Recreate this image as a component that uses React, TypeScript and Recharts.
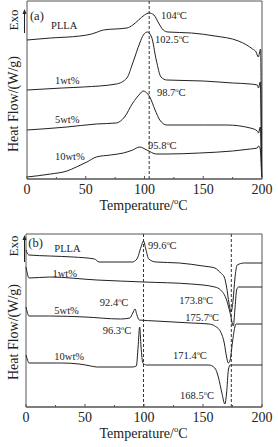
import React from "react"
import { ComposedChart, Line, XAxis, YAxis, ReferenceLine, ReferenceArea, ReferenceDot } from "recharts"

const SERIF = '"Liberation Serif", "Times New Roman", serif'
const INK = "#222"
const AXIS = "#555"

const tickValues = [0, 25, 50, 75, 100, 125, 150, 175, 200]
const labeledTicks = [0, 50, 100, 150, 200]

// (a) cooling-free first heating, heat flow in arbitrary offset units
const aPllaT = [0, 20, 45, 55, 60, 65, 85, 90, 95, 100, 104, 108, 112, 116, 120, 140, 160, 180, 187, 192, 195, 196.8, 198.8, 199.7]
const aPllaHF = [139, 141, 143, 145, 147, 149, 151, 154, 159, 164, 166, 164, 156, 149, 147, 146, 143, 138, 134, 130, 127, 122, 130, 2]

const a1T = [0, 30, 48, 76, 85, 90, 96, 99, 102.5, 106, 110, 114, 119, 150, 175, 190, 196, 197, 198.5, 199.7]
const a1HF = [89, 91, 92, 95, 101, 116, 136, 144, 147, 142, 119, 102, 99, 98, 96, 95, 94, 91, 97, 2]

const a5T = [0, 34, 59, 76, 83, 90, 96, 98.7, 101, 104.5, 109, 113, 119, 150, 170, 190, 196, 197, 198.5, 199.7]
const a5HF = [49, 52, 55, 56, 62, 76, 85, 88, 87, 82, 69, 59, 54, 54, 54, 51, 48, 46, 52, 2]

const a10T = [0, 20, 34, 42, 51, 59, 71, 82, 90, 95.8, 102, 110, 120, 147, 175, 190, 196, 197, 198.5, 199.7]
const a10HF = [2, 5, 8, 12, 17, 22, 24, 26, 29, 32, 29, 25, 25, 26, 28, 30, 31, 33, 30, 2]

// (b)
const bPllaT = [0, 1, 2.5, 20, 40, 58, 62, 90, 94, 97.5, 99.6, 101.5, 104, 110, 130, 150, 160, 165, 168, 170, 172, 173.8, 175.5, 177, 179, 185, 200]
const bPllaHF = [157, 154, 152, 151, 150, 148, 145, 145, 148, 160, 166, 158, 148, 145, 144, 141, 139, 134, 130, 120, 104, 95, 107, 128, 142, 144, 144]

const b1T = [0, 1, 2.5, 20, 60, 100, 140, 160, 165, 170, 173, 175.7, 177, 178.5, 180, 200]
const b1HF = [140, 134, 129, 130, 127, 125, 123, 120, 117, 107, 94, 81, 97, 117, 120, 120]

const b5T = [0, 1, 2.5, 20, 50, 80, 88, 90.5, 92.4, 94, 96, 110, 140, 155, 160, 165, 168, 170, 171.4, 173, 175, 177, 178, 200]
const b5HF = [100, 95, 91, 91, 90, 88, 89, 94, 98, 92, 87, 86, 84, 83, 81, 75, 64, 50, 44, 47, 65, 80, 83, 83]

const b10T = [0, 1, 2.5, 30, 45, 55, 60, 90, 93.5, 95, 96.3, 97.5, 99, 102, 140, 155, 160, 163, 166, 168.5, 170, 171.5, 173, 200]
const b10HF = [52, 48, 44, 44, 43, 41, 40, 40, 41, 60, 80, 60, 44, 42, 42, 42, 39, 30, 14, 3, 14, 37, 42, 42]

const aNotes = [
  { t: 2.5, hf: 159, text: "(a)", size: 12.5 },
  { t: 20.5, hf: 150, text: "PLLA", size: 10.5 },
  { t: 114, hf: 160, text: "104°C", size: 10.5 },
  { t: 109, hf: 136, text: "102.5°C", size: 10.5 },
  { t: 23.8, hf: 95, text: "1wt%", size: 10.5 },
  { t: 110.6, hf: 83, text: "98.7°C", size: 10.5 },
  { t: 23.8, hf: 56, text: "5wt%", size: 10.5 },
  { t: 103, hf: 30, text: "95.8°C", size: 10.5 },
  { t: 23.8, hf: 19, text: "10wt%", size: 10.5 },
]

const bNotes = [
  { t: 2, hf: 160, text: "(b)", size: 12.5 },
  { t: 24, hf: 155, text: "PLLA", size: 10.5 },
  { t: 103.4, hf: 158, text: "99.6°C", size: 10.5 },
  { t: 22.4, hf: 130, text: "1wt%", size: 10.5 },
  { t: 62.5, hf: 101, text: "92.4°C", size: 10.5 },
  { t: 129.8, hf: 103, text: "173.8°C", size: 10.5 },
  { t: 24, hf: 93, text: "5wt%", size: 10.5 },
  { t: 135, hf: 86, text: "175.7°C", size: 10.5 },
  { t: 65, hf: 73, text: "96.3°C", size: 10.5 },
  { t: 24, hf: 47, text: "10wt%", size: 10.5 },
  { t: 124.6, hf: 48, text: "171.4°C", size: 10.5 },
  { t: 130.6, hf: 8, text: "168.5°C", size: 10.5 },
]

const zip = (t: number[], hf: number[]) => t.map((v, i) => ({ t: v, hf: hf[i] }))

function DegText({ x, y, text, size }: { x: number; y: number; text: string; size: number }) {
  const parts = text.split("°")
  return (
    <text x={x} y={y} fontSize={size} fontFamily={SERIF} fill={INK}>
      {parts[0]}
      {parts.length > 1 && (
        <>
          <tspan fontSize={size * 0.6} dy={-size * 0.4}>o</tspan>
          <tspan dy={size * 0.4}>{parts[1]}</tspan>
        </>
      )}
    </text>
  )
}

function TempTick(props: any) {
  const { x, y, payload } = props
  const axisY = y - 5
  const major = labeledTicks.includes(payload.value)
  return (
    <g>
      <line x1={x} x2={x} y1={axisY} y2={axisY - (major ? 3 : 2)} stroke={AXIS} />
      {major && (
        <text x={x} y={axisY + 15} textAnchor="middle" fontSize={14} fontFamily={SERIF} fill={INK}>
          {payload.value}
        </text>
      )}
    </g>
  )
}

interface PanelProps {
  height: number
  top: number
  left: number
  yMax: number
  series: Array<{ t: number; hf: number }[]>
  dashed: number[]
  notes: typeof aNotes
}

function Panel({ height, top, left, yMax, series, dashed, notes }: PanelProps) {
  return (
    <ComposedChart width={278} height={height} margin={{ top, right: 16, left, bottom: 0 }}>
      <XAxis
        type="number"
        dataKey="t"
        domain={[0, 200]}
        ticks={tickValues}
        interval={0}
        height={height - top - (height === 220 ? 178 : 173)}
        tickSize={0}
        tickMargin={5}
        tickLine={false}
        tick={<TempTick />}
        stroke={AXIS}
      />
      <YAxis type="number" domain={[0, yMax]} hide />
      <ReferenceArea x1={0} x2={200} y1={0} y2={yMax} fill="none" stroke={AXIS} strokeWidth={1} />
      {dashed.map((d) => (
        <ReferenceLine key={d} x={d} stroke="#333" strokeDasharray="3 2" />
      ))}
      {series.map((s, i) => (
        <Line key={i} data={s} dataKey="hf" type="monotone" stroke={INK} strokeWidth={1} dot={false} isAnimationActive={false} />
      ))}
      {notes.map((n) => (
        <ReferenceDot
          key={n.text}
          x={n.t}
          y={n.hf}
          r={1}
          shape={(p: any) => <DegText x={p.cx} y={p.cy} text={n.text} size={n.size} />}
        />
      ))}
    </ComposedChart>
  )
}

function Side({ exoY, labelY, arrowTop, arrowBottom }: { exoY: number; labelY: number; arrowTop: number; arrowBottom: number }) {
  return (
    <g fontFamily={SERIF} fill={INK}>
      <text x={13} y={exoY} fontSize={13} textAnchor="middle" dominantBaseline="central" transform={`rotate(-90 13 ${exoY})`}>
        Exo
      </text>
      <line x1={24.5} x2={24.5} y1={arrowTop + 3} y2={arrowBottom} stroke={INK} strokeWidth={1} />
      <path d={`M22.5 ${arrowTop + 5} L24.5 ${arrowTop} L26.5 ${arrowTop + 5} Z`} fill={INK} />
      <text x={13} y={labelY} fontSize={14} textAnchor="middle" dominantBaseline="central" transform={`rotate(-90 13 ${labelY})`}>
        Heat Flow/(W/g)
      </text>
    </g>
  )
}

function Title({ y }: { y: number }) {
  return (
    <text x={143.5} y={y} fontSize={14} textAnchor="middle" fontFamily={SERIF} fill={INK}>
      Temperature/
      <tspan fontSize={8.5} dy={-6}>o</tspan>
      <tspan dy={6}>C</tspan>
    </text>
  )
}

export default function App() {
  return (
    <div style={{ position: "absolute", left: 0, top: 0, width: 278, height: 447, background: "#fff" }}>
      <div style={{ position: "absolute", left: 0, top: 0 }}>
        <Panel
          height={220}
          top={1}
          left={27}
          yMax={178}
          series={[zip(aPllaT, aPllaHF), zip(a1T, a1HF), zip(a5T, a5HF), zip(a10T, a10HF)]}
          dashed={[104]}
          notes={aNotes}
        />
      </div>
      <div style={{ position: "absolute", left: 0, top: 220 }}>
        <Panel
          height={227}
          top={14}
          left={26}
          yMax={173}
          series={[zip(bPllaT, bPllaHF), zip(b1T, b1HF), zip(b5T, b5HF), zip(b10T, b10HF)]}
          dashed={[99.6, 174]}
          notes={bNotes}
        />
      </div>
      <svg width={278} height={447} style={{ position: "absolute", left: 0, top: 0, pointerEvents: "none" }}>
        <Side exoY={20} labelY={104} arrowTop={9} arrowBottom={33} />
        <Side exoY={246} labelY={332} arrowTop={235} arrowBottom={262} />
        <Title y={210} />
        <Title y={438} />
      </svg>
    </div>
  )
}
